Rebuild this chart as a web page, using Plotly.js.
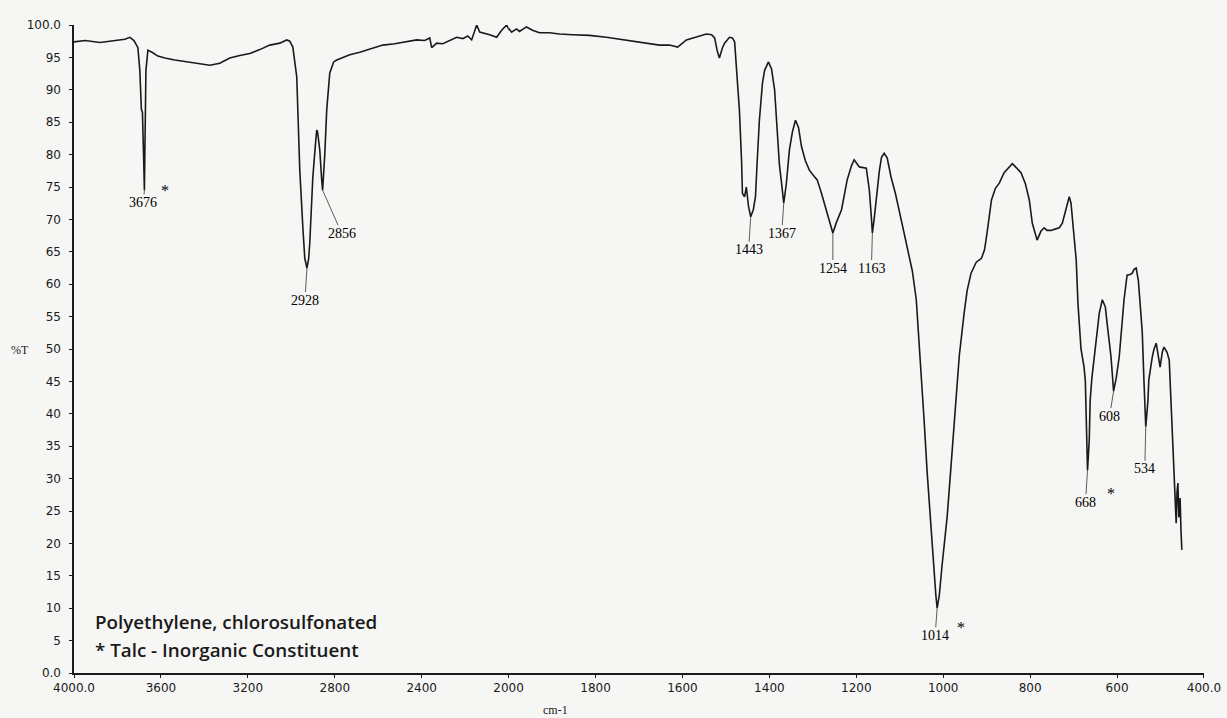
<!DOCTYPE html>
<html>
<head>
<meta charset="utf-8">
<script src="https://cdn.plot.ly/plotly-3.0.1.min.js"></script>
<style>
html,body{margin:0;padding:0;background:#f6f6f4;}
#chart{width:1227px;height:718px;}
</style>
</head>
<body>
<div id="chart"></div>
<script>
// Wavenumber (cm-1) and transmittance (%T)
const wavenumber = [
4000,3949,3880,3811,3766,3743,3724,3706,3697,3690,3685,3680,3676,3674,3669,3660,3641,3614,3582,3536,
3467,3421,3375,3329,3283,3237,3191,3145,3099,3053,3021,3007,2993,2975,2961,2947,2938,2928,2920,2915,
2901,2888,2883,2879,2869,2860,2856,2846,2837,2823,2805,2791,2754,2731,2685,2639,2579,2524,2478,2423,
2386,2363,2354,2331,2303,2271,2239,2211,2188,2170,2147,2133,2119,2087,2055,2032,2009,2000,
1993,1982,1975,1959,1945,1929,1906,1883,1853,1814,1775,1745,1699,1676,1653,1630,1611,1591,1568,1545,
1533,1526,1520,1515,1508,1503,1492,1485,1480,1476,1474,1469,1464,1462,1457,1453,1448,1443,1437,1432,
1428,1423,1416,1411,1402,1395,1388,1384,1382,1377,1372,1367,1361,1354,1347,1340,1333,1326,1317,1308,
1299,1290,1280,1269,1262,1254,1246,1234,1221,1211,1205,1193,1177,1170,1165,1163,1159,1154,1147,1142,
1136,1129,1120,1110,1101,1092,1083,1071,1062,1055,1051,1044,1037,1032,1021,1017,1014,1009,1003,991,
982,975,963,952,945,936,924,912,905,899,889,880,871,860,848,841,832,821,811,802,
795,788,784,775,768,761,752,743,733,726,720,715,710,706,703,699,694,690,687,683,
678,676,673,671,668,664,662,658,651,646,641,634,627,623,618,614,608,602,595,588,
584,577,570,565,561,556,551,547,542,538,534,529,527,519,515,510,506,501,496,492,
485,480,476,473,469,467,464,462,460,458,455,453,451
];
const transmittance = [
97.4,97.6,97.3,97.6,97.8,98.1,97.6,96.5,93,87,86.5,80,74.5,80,93,96.1,95.8,95.2,94.9,94.6,
94.3,94.0,93.8,94.1,94.9,95.3,95.6,96.2,96.9,97.2,97.7,97.5,96.6,92,77.6,68.8,64,62.5,64,66.4,
76.5,82,83.8,83.5,80.7,76,74.5,80,86.9,92.6,94.3,94.6,95.1,95.4,95.8,96.3,96.9,97.1,97.4,97.7,
97.6,98,96.5,97.2,97.1,97.6,98.1,97.9,98.3,97.7,100,98.9,98.8,98.5,98.1,99.2,100,99.5,
98.9,99.4,99.0,99.7,99.2,98.8,98.8,98.6,98.5,98.4,98.1,97.8,97.4,97.1,96.9,96.9,96.6,97.7,98.2,98.6,
98.5,98.0,96,94.9,96.5,97.2,98.1,98,97.4,94,92,86.9,79,74,73.5,75,72,70.4,71.5,73.5,
79,85.3,91,93,94.3,93.2,90,86,82.3,78.5,75.6,72.5,75.5,80.7,83.5,85.3,84.2,81.2,79,77.6,
76.8,76.1,74,71.5,69.5,67.9,69.5,71.5,76.1,78.3,79.2,78.1,77.9,74.5,70,67.9,70,73.5,77.5,79.6,
80.2,79.5,76.5,74,71,68.5,65.7,62,57.6,51,46,39,31,26,16.4,12,10.0,12,16.4,24.1,
32,38,49,55.5,59,61.7,63.4,64,65.3,68,73,74.8,75.6,77.2,78.2,78.6,78.0,77.2,75.5,73,
69.4,67.5,66.8,68.2,68.7,68.3,68.3,68.5,68.7,69.4,71,72.5,73.5,72.5,70.4,67,63.7,57,53.4,50,
48,47.2,45,40,31.3,36,42,45.5,50,53.4,55.5,57.6,56.5,54,51,48.8,43.5,45.5,48.8,54,
57.6,61.4,61.5,61.7,62.3,62.5,60.5,57,52.5,44.8,38,42,45.2,48.8,50,50.9,49,47.2,49.5,50.3,
49.5,48.3,42,37.5,32,29.8,23.1,28,29.3,24,27,22.1,19
];

// Labelled peaks
const peakWn   = [3676, 2928, 2856, 1443, 1367, 1254, 1163, 1014, 668, 608, 534];
const peakT    = [74.5, 62.5, 74.5, 70.4, 72.5, 67.9, 67.9, 10.0, 31.3, 43.5, 38.0];
const peakText = ["3676","2928","2856","1443","1367","1254","1163","1014","668","608","534"];
const talcPeaks = [3676, 1014, 668];

// Axis ticks
const x1TickVals = [4000, 3600, 3200, 2800, 2400];
const x1TickText = ["4000.0", "3600", "3200", "2800", "2400"];
const x2TickVals = [2000, 1800, 1600, 1400, 1200, 1000, 800, 600, 400];
const x2TickText = ["2000", "1800", "1600", "1400", "1200", "1000", "800", "600", "400.0"];
const yTickVals = [0,5,10,15,20,25,30,35,40,45,50,55,60,65,70,75,80,85,90,95,100];
const yTickText = ["0.0","5","10","15","20","25","30","35","40","45","50","55","60","65","70","75","80","85","90","95","100.0"];

const legendLines = ["Polyethylene, chlorosulfonated", "* Talc - Inorganic Constituent"];

const lineStyle = {color: '#1a1a1a', width: 1.6};
const traces = [
  {x: wavenumber, y: transmittance, xaxis: 'x', yaxis: 'y', type: 'scatter', mode: 'lines', line: lineStyle, hoverinfo: 'skip'},
  {x: wavenumber, y: transmittance, xaxis: 'x2', yaxis: 'y', type: 'scatter', mode: 'lines', line: lineStyle, hoverinfo: 'skip'}
];

// label offsets (pixels) for each peak label
const labelOffsets = {
  "3676": [-1, 12], "2928": [-2, 32], "2856": [19, 43], "1443": [-2, 33], "1367": [-2, 30],
  "1254": [0, 35], "1163": [-1, 35], "1014": [-2, 27], "668": [-2, 32], "608": [-4, 25], "534": [-1, 42]
};
const starOffsets = {"3676": [21, 0], "1014": [24, -19], "668": [23, -23]};

const annotations = [];
const serif = {family: 'Liberation Serif, Times New Roman, serif', size: 14, color: '#000000'};
peakWn.forEach((wn, i) => {
  const xr = wn > 2000 ? 'x' : 'x2';
  const off = labelOffsets[peakText[i]];
  annotations.push({
    x: wn, y: peakT[i], xref: xr, yref: 'y', text: peakText[i],
    showarrow: true, arrowhead: 0, arrowwidth: 0.8, arrowcolor: '#333',
    ax: off[0], ay: off[1], standoff: 0, font: serif, borderpad: 0
  });
  if (talcPeaks.includes(wn)) {
    const so = starOffsets[peakText[i]];
    annotations.push({
      x: wn, y: peakT[i], xref: xr, yref: 'y', text: '*', showarrow: false,
      xshift: so[0], yshift: so[1], font: {family: 'Liberation Serif, serif', size: 16, color: '#000000'}
    });
  }
});
annotations.push(
  {xref: 'paper', yref: 'paper', x: 0.0168, y: 0.078, xanchor: 'left', yanchor: 'middle', showarrow: false,
   text: legendLines[0], font: {family: 'Open Sans, sans-serif', size: 18.8, weight: 600, color: '#1a1a1a'}},
  {xref: 'paper', yref: 'paper', x: 0.0168, y: 0.035, xanchor: 'left', yanchor: 'middle', showarrow: false,
   text: legendLines[1], font: {family: 'Open Sans, sans-serif', size: 18.8, weight: 600, color: '#1a1a1a'}},
  {xref: 'paper', yref: 'paper', x: 0.4257, y: -0.057, xanchor: 'center', yanchor: 'middle', showarrow: false,
   text: 'cm-1', font: {family: 'Liberation Serif, serif', size: 12, color: '#1a1a1a'}},
  {xref: 'paper', yref: 'paper', x: -0.048, y: 0.498, xanchor: 'center', yanchor: 'middle', showarrow: false,
   text: '%T', font: {family: 'Liberation Serif, serif', size: 12, color: '#1a1a1a'}}
);

const tickFont = {family: 'DejaVu Sans, Verdana, sans-serif', size: 12, color: '#1a1a1a'};
const axisCommon = {
  showgrid: false, zeroline: false, showline: true, linecolor: '#1a1a1a', linewidth: 1.6,
  ticks: 'outside', ticklen: 3, tickwidth: 1, tickcolor: '#1a1a1a', tickfont: tickFont, fixedrange: true
};
const split = 2000 / (2000 + 2 * 1600);
const layout = {
  width: 1227, height: 718,
  margin: {l: 74, r: 23, t: 25, b: 45},
  paper_bgcolor: '#f6f6f4', plot_bgcolor: '#f6f6f4',
  showlegend: false,
  xaxis: Object.assign({}, axisCommon, {domain: [0, split], range: [4000, 2000], anchor: 'y',
    tickmode: 'array', tickvals: x1TickVals, ticktext: x1TickText}),
  xaxis2: Object.assign({}, axisCommon, {domain: [split, 1], range: [2000, 400], anchor: 'y',
    tickmode: 'array', tickvals: x2TickVals, ticktext: x2TickText}),
  yaxis: Object.assign({}, axisCommon, {range: [0, 100], anchor: 'x', ticklabelstandoff: 6,
    tickmode: 'array', tickvals: yTickVals, ticktext: yTickText}),
  annotations: annotations
};
Plotly.newPlot('chart', traces, layout, {staticPlot: true, displayModeBar: false});
</script>
</body>
</html>
